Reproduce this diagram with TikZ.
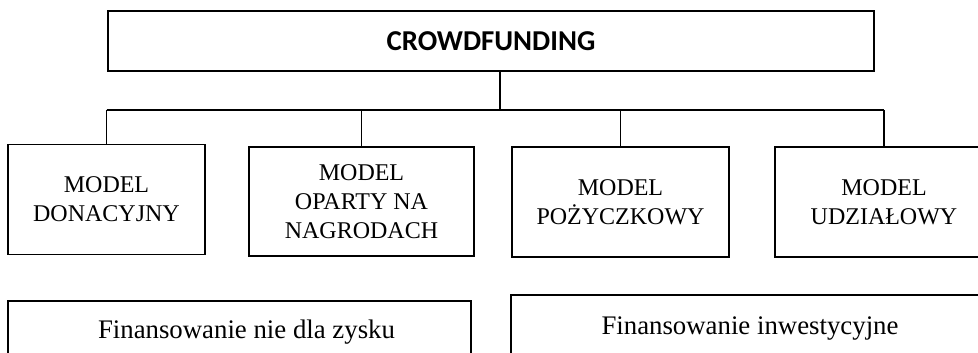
\documentclass[tikz,border=0pt]{standalone}
\usepackage{fontspec}
\setmainfont{Liberation Serif}
\newfontfamily\calibri{Carlito}

\begin{document}
\begin{tikzpicture}[x=1pt,y=-1pt,
  box/.style={draw,line width=1.6pt,inner sep=0pt,align=center},
  model/.style={box,minimum height=110pt,font=\fontsize{24}{29}\selectfont},
  finans/.style={box,font=\fontsize{26.8}{30}\selectfont}]
  \useasboundingbox (0,0) rectangle (978,353);
  \clip (0,0) rectangle (978,353);
  % root
  \node[box,minimum width=766pt,minimum height=60pt,
        font=\calibri\bfseries\fontsize{28.8}{32}\selectfont] (crowd) at (491,41) {CROWDFUNDING};
  % models
  \node[model,minimum width=197pt] (donac) at (106.5,199.5) {MODEL\\DONACYJNY};
  \node[model,minimum width=225pt,minimum height=109pt] (nagr) at (361.5,201.5) {MODEL\\OPARTY NA\\NAGRODACH};
  \node[model,minimum width=217pt] (pozycz) at (620.5,202) {MODEL\\POŻYCZKOWY};
  \node[model,minimum width=218pt] (udzial) at (884,202) {MODEL\\UDZIAŁOWY};
  % kinds of funding
  \node[finans,minimum width=463pt,minimum height=62pt] (nonprofit) at (239.5,332) {\hspace*{14pt}Finansowanie nie dla zysku};
  \node[finans,minimum width=478pt,minimum height=68pt] (invest) at (750,329) {Finansowanie inwestycyjne};

  \coordinate (bus) at (500,110);
  \draw[line width=1.6pt] (crowd.south -| bus) -- (bus);
  \draw[line width=1.6pt] (donac.north |- bus) -- (udzial.north |- bus);
  \foreach \n in {donac,nagr,pozycz,udzial}
    \draw[line width=1.6pt] (\n.north |- bus) -- (\n.north);
\end{tikzpicture}
\end{document}
